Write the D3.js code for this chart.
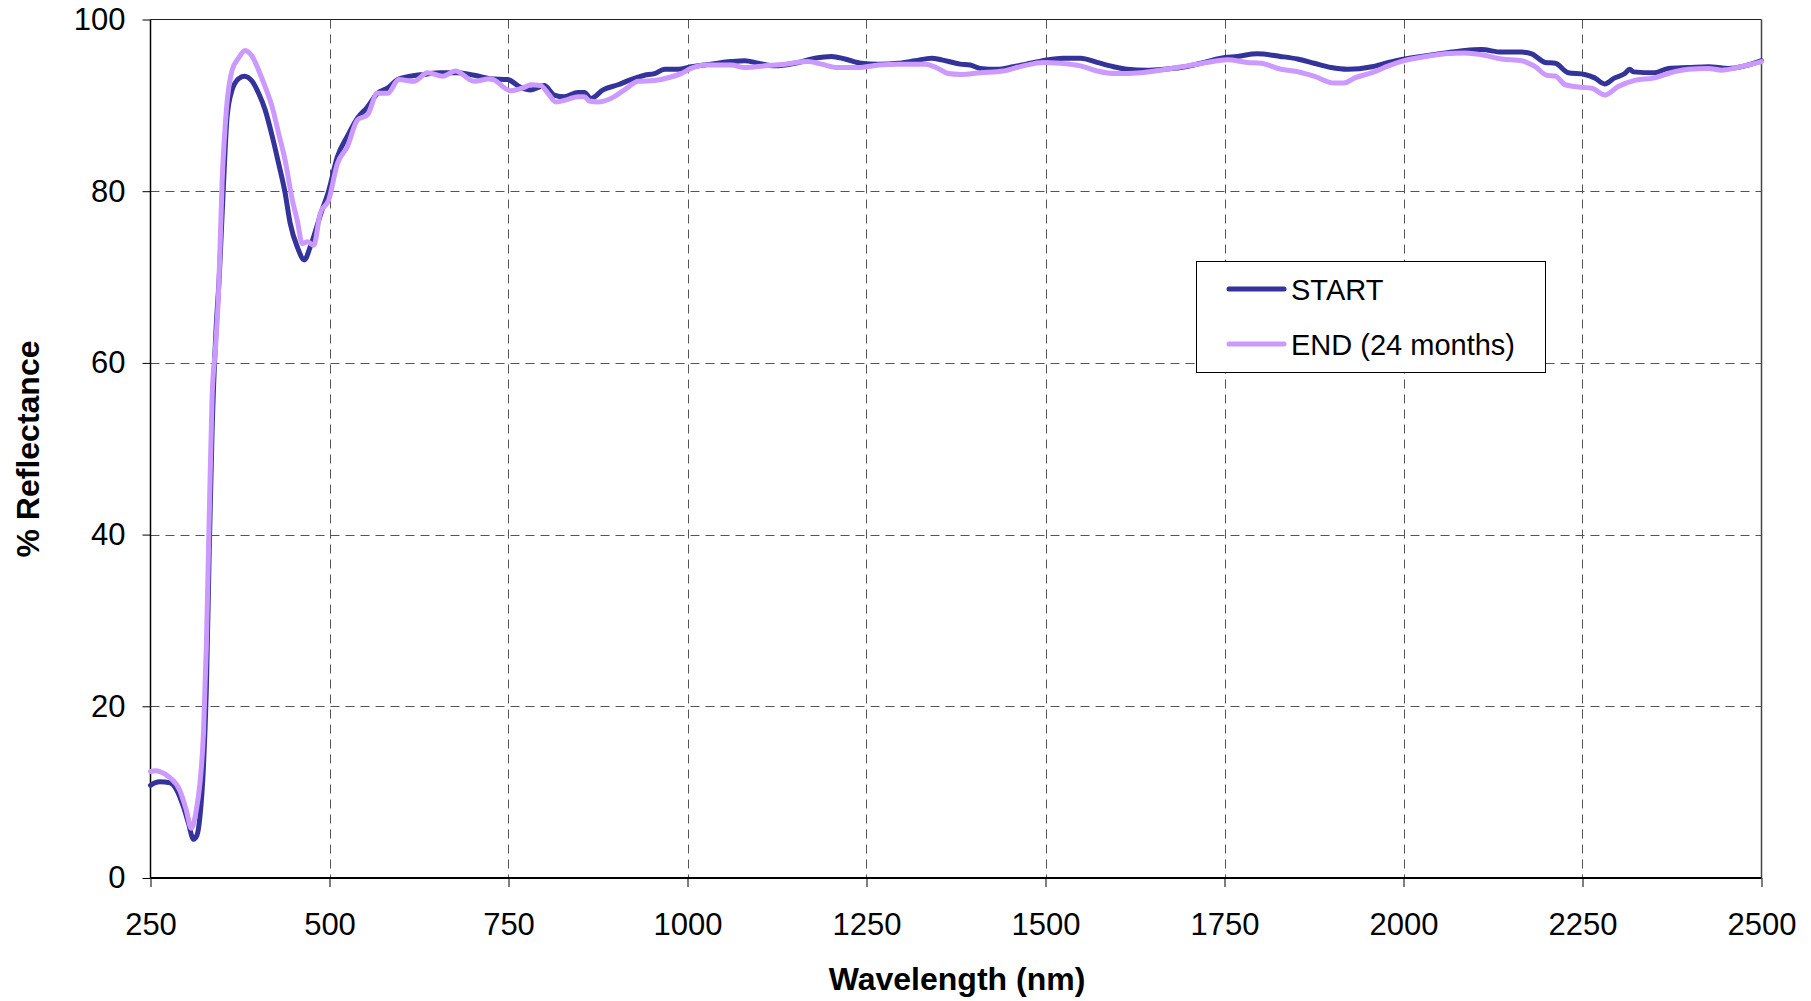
<!DOCTYPE html>
<html>
<head>
<meta charset="utf-8">
<script src="https://cdn.jsdelivr.net/npm/d3@7"></script>
<style>
  html, body { margin: 0; padding: 0; background: #fff; }
  svg { display: block; font-family: Arial, "Liberation Sans", sans-serif; }
</style>
</head>
<body>
<svg id="chart" width="1811" height="1001"></svg>
<script>
const seriesNames = ["START", "END (24 months)"];
const seriesColors = ["#333399", "#CC99FF"];

const startWl = [250,257,263,277,287,296,303,310,315,319,324,328,332,336,341,346,352,357,364,373,381,392,401,410,420,429,438,445,455,465,473,488,499,511,525,539,553,567,581,595,613,632,655,679,702,725,749,767,781,800,814,828,847,856,865,882,903,921,940,954,968,987,1005,1033,1061,1080,1099,1122,1150,1178,1201,1220,1243,1267,1294,1318,1341,1355,1381,1395,1409,1432,1455,1479,1502,1525,1549,1572,1595,1614,1642,1665,1689,1717,1745,1768,1796,1828,1852,1875,1899,1922,1956,1979,2001,2025,2058,2086,2109,2137,2165,2179,2198,2212,2230,2253,2267,2281,2295,2309,2316,2321,2351,2370,2398,2426,2454,2477,2500];
const startVal = [10.8,11.1,11.2,11.1,10.2,8.3,6.4,4.5,5.0,7.1,13,22,38,52,63,70,80.9,88.7,91.8,93.1,93.4,92.8,91.4,89.5,86.4,83.2,79.8,76.3,73.5,72,73.5,77.4,80.1,84,86.4,88.5,89.8,91.4,92,93,93.4,93.6,93.8,93.8,93.5,93.1,93,92.1,91.8,92.3,91.2,91,91.5,91.5,90.8,91.8,92.4,93,93.5,93.7,94.2,94.2,94.5,94.8,95.1,95.2,94.9,94.6,94.9,95.5,95.7,95.4,94.9,94.8,94.9,95.2,95.5,95.3,94.8,94.7,94.3,94.2,94.5,94.9,95.3,95.5,95.5,95.0,94.5,94.2,94.1,94.2,94.4,94.9,95.5,95.7,96.0,95.7,95.4,94.9,94.4,94.2,94.5,95.0,95.4,95.7,96.1,96.4,96.5,96.2,96.2,96.0,95.0,94.9,93.8,93.6,93.2,92.5,93.2,93.7,94.2,93.9,93.8,94.3,94.4,94.5,94.3,94.6,95.2];

const endWl = [250,257,263,277,291,300,307,314,319,324,328,332,336,341,345,350,356,364,373,382,392,401,410,420,429,438,448,455,462,469,478,487,499,511,525,539,553,567,581,597,618,637,658,676,702,725,753,772,781,795,807,816,833,847,856,863,875,893,912,931,954,977,991,1005,1024,1061,1080,1108,1136,1168,1187,1210,1238,1267,1294,1332,1350,1364,1381,1409,1441,1469,1497,1521,1549,1572,1600,1633,1661,1698,1726,1754,1782,1801,1829,1847,1875,1903,1917,1932,1956,1979,2001,2025,2058,2086,2109,2137,2165,2184,2200,2212,2226,2249,2263,2281,2300,2323,2351,2373,2398,2426,2444,2471,2500];
const endVal = [12.4,12.5,12.4,11.7,10.2,7.9,5.8,7.9,11,16.9,27,42,56,62,68,81,89.5,94.1,95.5,96.4,95.7,94.1,92.2,89.8,86.7,83.6,79,76.6,73.9,74.1,73.7,77.4,79,83.2,85.2,88.3,88.9,91.4,91.4,93,92.8,93.8,93.4,94,92.8,93.1,91.7,92.1,92.4,92.3,91.2,90.4,90.7,91,91,90.5,90.4,90.8,91.8,92.8,92.9,93.3,93.7,94.3,94.7,94.7,94.4,94.6,94.8,95.1,94.8,94.4,94.4,94.7,94.8,94.8,94.3,93.7,93.6,93.8,94.0,94.6,95.0,94.9,94.6,94.0,93.7,93.8,94.1,94.6,95.0,95.3,95.0,94.9,94.2,94.0,93.4,92.6,92.6,93.2,93.8,94.6,95.2,95.6,96.0,96.1,95.9,95.4,95.2,94.5,93.5,93.4,92.4,92.1,92.0,91.2,92.2,92.9,93.2,93.8,94.2,94.3,94.1,94.5,95.1];

const xTicks = [250,500,750,1000,1250,1500,1750,2000,2250,2500];
const yTicks = [0,20,40,60,80,100];
const xTitle = "Wavelength (nm)";
const yTitle = "% Reflectance";

const L = 150.5, R = 1761.5, T = 19.5, B = 878;
const svg = d3.select("#chart");
const x = d3.scaleLinear().domain([250, 2500]).range([L, R]);
const y = d3.scaleLinear().domain([0, 100]).range([B, T]);

// gridlines
const grid = svg.append("g");
grid.selectAll(".vg").data(xTicks.slice(1, -1)).enter().append("line")
  .attr("x1", d => Math.round(x(d)) + 0.5).attr("x2", d => Math.round(x(d)) + 0.5)
  .attr("y1", T).attr("y2", B)
  .attr("stroke", "#555").attr("stroke-width", 1).attr("stroke-dasharray", "9,6");
grid.selectAll(".hg").data(yTicks.slice(1, -1)).enter().append("line")
  .attr("y1", d => Math.round(y(d)) + 0.5).attr("y2", d => Math.round(y(d)) + 0.5)
  .attr("x1", L).attr("x2", R)
  .attr("stroke", "#555").attr("stroke-width", 1).attr("stroke-dasharray", "9,6");

// frame top/right
svg.append("line").attr("x1", L).attr("x2", R).attr("y1", T).attr("y2", T).attr("stroke", "#222").attr("stroke-width", 1.2);
svg.append("line").attr("x1", R).attr("x2", R).attr("y1", T).attr("y2", B).attr("stroke", "#444").attr("stroke-width", 1.5);

// axes
const xAxis = d3.axisBottom(x).tickValues(xTicks).tickSize(9).tickPadding(26).tickFormat(d3.format("d"));
const gx = svg.append("g").attr("transform", `translate(0,${B})`).call(xAxis);
gx.select(".domain").attr("stroke", "#000").attr("stroke-width", 2).attr("d", `M${L},0H${R}`);
gx.selectAll(".tick line").attr("stroke", "#000").attr("stroke-width", 1);
gx.selectAll(".tick text").attr("font-size", 31).attr("fill", "#000")
  .attr("font-family", "Arial, 'Liberation Sans', sans-serif").attr("dy", "0.71em");

const yAxis = d3.axisLeft(y).tickValues(yTicks).tickSize(8).tickPadding(17).tickFormat(d3.format("d"));
const gy = svg.append("g").attr("transform", `translate(${L},0)`).call(yAxis);
gy.select(".domain").attr("stroke", "#000").attr("stroke-width", 1.5).attr("d", `M0,${T}V${B}`);
gy.selectAll(".tick line").attr("stroke", "#000").attr("stroke-width", 1);
gy.selectAll(".tick text").attr("font-size", 31).attr("fill", "#000")
  .attr("font-family", "Arial, 'Liberation Sans', sans-serif");

// series
const line = d3.line().x(d => x(d[0])).y(d => y(d[1])).curve(d3.curveMonotoneX);
const series = [
  { name: seriesNames[0], color: seriesColors[0], pts: d3.zip(startWl, startVal) },
  { name: seriesNames[1], color: seriesColors[1], pts: d3.zip(endWl, endVal) }
];
svg.append("g").selectAll("path").data(series).enter().append("path")
  .attr("d", d => line(d.pts))
  .attr("fill", "none").attr("stroke", d => d.color).attr("stroke-width", 5)
  .attr("stroke-linejoin", "round").attr("stroke-linecap", "round");

// axis titles
svg.append("text").attr("x", (L + R) / 2 + 1).attr("y", 990)
  .attr("text-anchor", "middle").attr("font-size", 32).attr("font-weight", "bold").text(xTitle);
svg.append("text").attr("transform", `translate(39,449) rotate(-90)`)
  .attr("text-anchor", "middle").attr("font-size", 32).attr("font-weight", "bold").text(yTitle);

// legend
const lg = svg.append("g");
lg.append("rect").attr("x", 1196.5).attr("y", 261.5).attr("width", 349).attr("height", 111)
  .attr("fill", "#fff").attr("stroke", "#000").attr("stroke-width", 1);
series.forEach((s, i) => {
  const yy = 289 + i * 55;
  lg.append("line").attr("x1", 1229).attr("x2", 1284).attr("y1", yy).attr("y2", yy)
    .attr("stroke", s.color).attr("stroke-width", 5).attr("stroke-linecap", "round");
  lg.append("text").attr("x", 1291).attr("y", yy + 11).attr("font-size", 29).attr("fill", "#000").text(s.name);
});
</script>
</body>
</html>
